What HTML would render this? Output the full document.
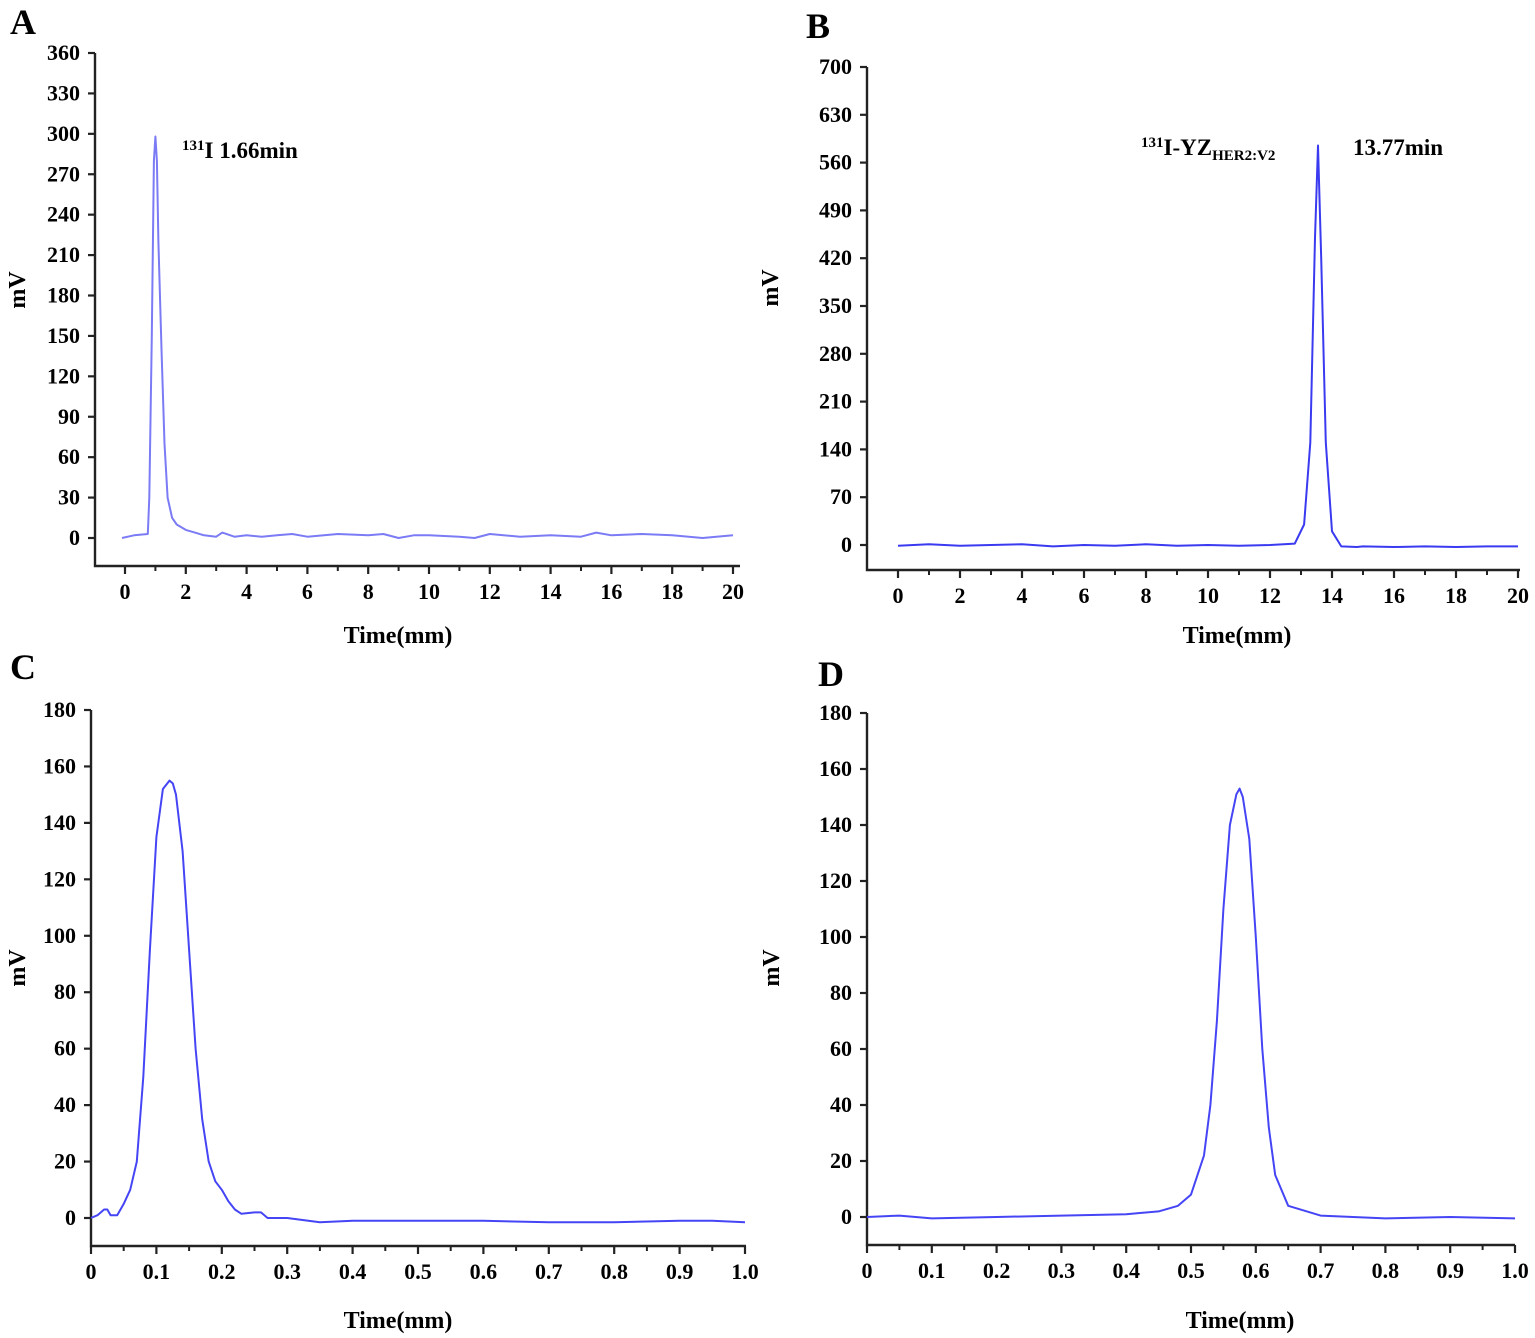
<!DOCTYPE html>
<html><head><meta charset="utf-8">
<style>
html,body{margin:0;padding:0;background:#fff;}
svg{display:block;font-family:"Liberation Serif",serif;font-weight:bold;}
</style></head>
<body>
<svg id="fig" width="1535" height="1338" viewBox="0 0 1535 1338"></svg>
<script>
// Panel A data
const aX=[-0.1,0.3,0.75,0.8,0.88,0.95,1.0,1.05,1.1,1.2,1.3,1.4,1.55,1.7,2,2.3,2.6,3,3.2,3.6,4,4.5,5,5.5,6,7,8,8.5,9,9.5,10,11,11.5,12,13,14,15,15.5,16,17,18,19,20];
const aY=[0,2,3,30,150,280,298,280,220,140,70,30,15,10,6,4,2,1,4,1,2,1,2,3,1,3,2,3,0,2,2,1,0,3,1,2,1,4,2,3,2,0,2];
// Panel B data
const bX=[0,1,2,3,4,5,6,7,8,9,10,11,12,12.8,13.1,13.3,13.45,13.55,13.65,13.8,14.0,14.3,14.8,15,16,17,18,19,20];
const bY=[-1,1,-1,0,1,-2,0,-1,1,-1,0,-1,0,2,30,150,450,585,420,150,20,-2,-3,-2,-3,-2,-3,-2,-2];
// Panel C data
const cX=[0,0.01,0.02,0.025,0.03,0.04,0.05,0.06,0.07,0.08,0.09,0.1,0.11,0.12,0.125,0.13,0.14,0.15,0.16,0.17,0.18,0.19,0.2,0.21,0.22,0.23,0.25,0.26,0.27,0.3,0.35,0.4,0.5,0.6,0.7,0.8,0.9,0.95,1.0];
const cY=[0,1,3,3,1,1,5,10,20,50,95,135,152,155,154,150,130,95,60,35,20,13,10,6,3,1.5,2,2,0,0,-1.5,-1,-1,-1,-1.5,-1.5,-1,-1,-1.5];
// Panel D data
const dX=[0,0.05,0.1,0.2,0.3,0.4,0.45,0.48,0.5,0.52,0.53,0.54,0.55,0.56,0.57,0.575,0.58,0.59,0.6,0.61,0.62,0.63,0.65,0.7,0.8,0.9,1.0];
const dY=[0,0.5,-0.5,0,0.5,1,2,4,8,22,40,70,110,140,151,153,150,135,100,60,32,15,4,0.5,-0.5,0,-0.5];
// Tick labels
const aYT=[0,30,60,90,120,150,180,210,240,270,300,330,360];
const bYT=[0,70,140,210,280,350,420,490,560,630,700];
const cdYT=[0,20,40,60,80,100,120,140,160,180];
const abXT=[0,2,4,6,8,10,12,14,16,18,20];
const cdXT=[0,0.1,0.2,0.3,0.4,0.5,0.6,0.7,0.8,0.9,1.0];

const NS="http://www.w3.org/2000/svg";
const svg=document.getElementById('fig');
function mk(tag,attrs,parent){const e=document.createElementNS(NS,tag);for(const k in attrs)e.setAttribute(k,attrs[k]);(parent||svg).appendChild(e);return e;}

function panel(p){
  const g=mk('g',{});
  
  
  const sx=v=>p.x0+(v-p.xv0)*(p.x1-p.x0)/(p.xv1-p.xv0);
  const sy=v=>p.y0-(v)*(p.y0-p.yT)/p.ymax;
  const ax=mk('path',{d:`M${p.L},${p.T}V${p.B}H${p.R}`,fill:'none',stroke:'#222','stroke-width':2.4},g);
  
  
  p.yt.forEach(v=>{
    mk('line',{x1:p.L-7,x2:p.L,y1:sy(v),y2:sy(v),stroke:'#222','stroke-width':2.2},g);
    const t=mk('text',{x:p.L-15,y:sy(v)+7,'text-anchor':'end','font-size':22},g);
    t.textContent=v;
    
    
  });
  p.xt.forEach((v,i)=>{
    mk('line',{x1:sx(v),x2:sx(v),y1:p.B,y2:p.B+8,stroke:'#222','stroke-width':2.2},g);
    if(i<p.xt.length-1){const m=(v+p.xt[i+1])/2;mk('line',{x1:sx(m),x2:sx(m),y1:p.B,y2:p.B+5,stroke:'#222','stroke-width':2},g);}
    const t=mk('text',{x:sx(v),y:p.B+33,'text-anchor':'middle','font-size':22},g);
    t.textContent=p.fmt(v);
    
    
  });
  const pts=p.xs.map((x,i)=>sx(x).toFixed(1)+','+sy(p.ys[i]).toFixed(1)).join(' ');
  const ln=mk('polyline',{points:pts,fill:'none',stroke:p.color,'stroke-width':2,'stroke-linejoin':'round'},g);
  
  
  const xt=mk('text',{x:p.xtx,y:p.xty,'text-anchor':'middle','font-size':24},g);
  xt.textContent='Time(mm)';
  
  
  const yt=mk('text',{x:0,y:0,'text-anchor':'middle','font-size':24,transform:`translate(${p.ytx},${p.yty}) rotate(-90)`},g);
  yt.textContent='mV';
  
  
  const lt=mk('text',{x:p.lx,y:p.ly,'font-size':36},g);
  lt.textContent=p.id;
  
  
}
const fI=v=>String(v), fD=v=>v===0?'0':v.toFixed(1);
panel({id:'A',L:95,B:566,R:740,T:53,x0:125,x1:733,xv0:0,xv1:20,y0:538,yT:53,ymax:360,yt:aYT,xt:abXT,fmt:fI,xs:aX,ys:aY,color:'#7b7bf5',xtx:398,xty:643,ytx:25,yty:290,lx:10,ly:34});
panel({id:'B',L:867,B:570,R:1520,T:67,x0:898,x1:1518,xv0:0,xv1:20,y0:545,yT:67,ymax:700,yt:bYT,xt:abXT,fmt:fI,xs:bX,ys:bY,color:'#3a3af0',xtx:1237,xty:643,ytx:778,yty:288,lx:806,ly:38});
panel({id:'C',L:91,B:1246,R:746,T:710,x0:91,x1:745,xv0:0,xv1:1,y0:1218,yT:710,ymax:180,yt:cdYT,xt:cdXT,fmt:fD,xs:cX,ys:cY,color:'#4545f5',xtx:398,xty:1328,ytx:25,yty:968,lx:10,ly:679});
panel({id:'D',L:867,B:1245,R:1515,T:713,x0:867,x1:1515,xv0:0,xv1:1,y0:1217,yT:713,ymax:180,yt:cdYT,xt:cdXT,fmt:fD,xs:dX,ys:dY,color:'#4545f5',xtx:1240,xty:1328,ytx:779,yty:968,lx:818,ly:686});

const a1=mk('text',{x:182,y:158,'font-size':23});
a1.innerHTML='<tspan font-size="15" dy="-8">131</tspan><tspan dy="8">I 1.66min</tspan>';


const b1=mk('text',{x:1141,y:155,'font-size':23});
b1.innerHTML='<tspan font-size="15" dy="-8">131</tspan><tspan dy="8">I-YZ</tspan><tspan font-size="15" dy="5">HER2:V2</tspan>';


const b2=mk('text',{x:1353,y:155,'font-size':23});
b2.textContent='13.77min';


</script>
</body></html>
